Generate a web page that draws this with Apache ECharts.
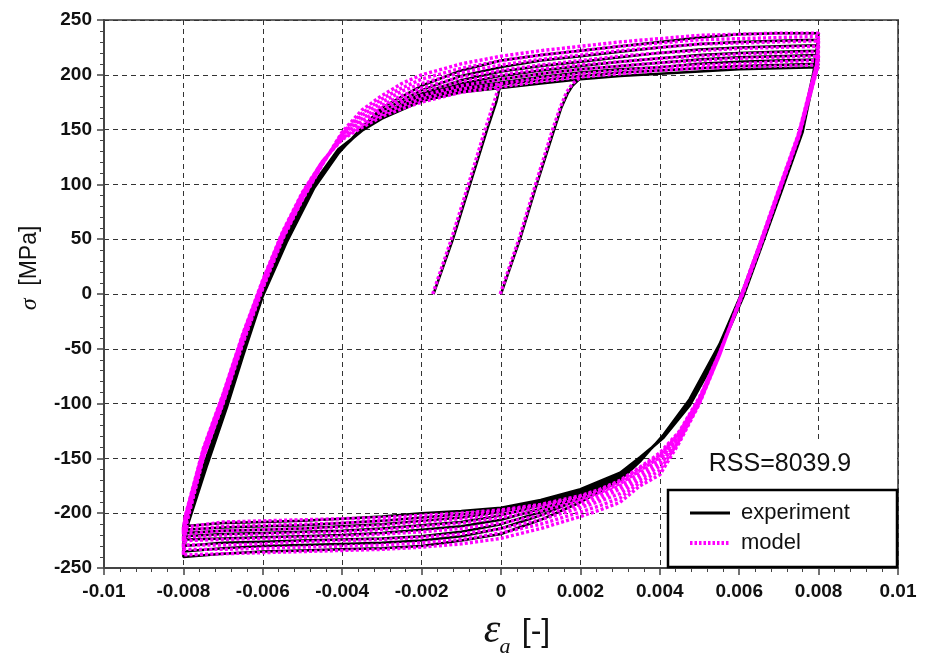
<!DOCTYPE html>
<html>
<head>
<meta charset="utf-8">
<script src="https://cdn.jsdelivr.net/npm/echarts@6/dist/echarts.min.js"></script>
<style>
  html, body { margin: 0; padding: 0; background: #fff; }
  #chart { width: 933px; height: 653px; }
</style>
</head>
<body>
<div id="chart"></div>
<script>
// axis ticks
const xTickLabels = ['-0.01', '-0.008', '-0.006', '-0.004', '-0.002', '0', '0.002', '0.004', '0.006', '0.008', '0.01'];
const yTickLabels = ['-250', '-200', '-150', '-100', '-50', '0', '50', '100', '150', '200', '250'];

// experiment: strain samples of the loading (up) and unloading (down) branches
const expUpStrain = [-0.008, -0.0079, -0.0074, -0.0069, -0.0065, -0.006, -0.0054, -0.0047, -0.0041, -0.0035, -0.003, -0.002, -0.001, 0, 0.001, 0.002, 0.003, 0.004, 0.005, 0.006, 0.007, 0.008];
const expDownStrain = [0.008, 0.0079, 0.0076, 0.0071, 0.0066, 0.0061, 0.0055, 0.00475, 0.0041, 0.0035, 0.003, 0.002, 0.001, 0, -0.001, -0.002, -0.003, -0.004, -0.005, -0.006, -0.007, -0.008];

// experiment stress per cycle [MPa]
const expUp1 = [-240, -212, -156, -103, -57, -2, 47, 97, 128, 152, 170, 190, 204, 213, 218, 222, 226, 230, 234, 237, 238, 238];
const expUp2 = [-235, -209, -155, -102, -56, -1, 48, 98, 129, 151, 167, 186, 199, 207, 213, 217, 221, 225, 228, 230, 231, 232];
const expUp3 = [-230, -207, -154, -101, -55, 0, 49, 99, 129, 150, 164, 183, 195, 203, 208, 212, 216, 220, 223, 225, 226, 227];
const expUp4 = [-224, -205, -152, -99, -53, 1, 50, 100, 130, 150, 162, 181, 192, 199, 204, 208, 212, 215, 218, 220, 221, 222];
const expUp5 = [-221, -203, -151, -98, -52, 2, 51, 101, 130, 150, 161, 180, 190, 196, 201, 205, 208, 211, 214, 216, 217, 218];
const expUp6 = [-218, -202, -149, -97, -51, 3, 52, 101, 131, 149, 161, 179, 188, 193, 198, 202, 205, 207, 210, 212, 213, 214];
const expUp7 = [-215, -200, -148, -96, -50, 4, 53, 102, 131, 149, 160, 177, 186, 191, 195, 199, 202, 204, 206, 208, 209, 210];
const expUp8 = [-212, -199, -147, -95, -49, 5, 54, 102, 132, 149, 160, 176, 184, 188, 192, 196, 199, 201, 203, 205, 206, 207];

const expDown1 = [238, 208, 155, 104, 54, 4, -46, -96, -128, -153, -170, -190, -206, -219, -225, -230, -232, -233, -234, -235, -237, -240];
const expDown2 = [232, 207, 154, 103, 53, 3, -47, -97, -129, -152, -168, -187, -202, -214, -221, -225, -227, -228, -229, -230, -232, -235];
const expDown3 = [227, 206, 153, 102, 52, 2, -48, -98, -129, -151, -167, -185, -199, -210, -217, -221, -223, -224, -225, -226, -227, -230];
const expDown4 = [222, 205, 152, 101, 51, 1, -49, -99, -130, -151, -166, -183, -196, -206, -212, -215, -218, -220, -221, -222, -223, -224];
const expDown5 = [218, 204, 151, 100, 50, 0, -50, -100, -130, -150, -165, -181, -193, -202, -208, -211, -214, -216, -217, -218, -219, -221];
const expDown6 = [214, 203, 150, 99, 49, -1, -51, -100, -130, -150, -164, -180, -191, -199, -204, -207, -210, -212, -214, -215, -216, -218];
const expDown7 = [210, 202, 149, 98, 48, -2, -52, -101, -131, -150, -164, -179, -189, -197, -201, -204, -207, -209, -211, -212, -213, -215];
const expDown8 = [207, 200, 148, 97, 47, -3, -53, -102, -131, -149, -163, -178, -188, -195, -198, -200, -203, -205, -207, -208, -209, -212];

// experiment: the two first-loading curves [strain, stress]
const expFirstA = [[-0.0017, 0], [-0.00121, 50], [-0.00078, 100], [-0.00035, 150], [-0.00012, 175], [-0.00002, 190]];
const expFirstB = [[0, 0], [0.00048, 50], [0.0009, 100], [0.00134, 150], [0.00152, 170], [0.00168, 183], [0.0018, 190], [0.002, 197]];

// model: strain samples
const modelUpStrain = [-0.008, -0.00795, -0.0075, -0.007, -0.0065, -0.006, -0.0055, -0.005, -0.0045, -0.004, -0.0035, -0.003, -0.0025, -0.002, -0.001, 0, 0.001, 0.002, 0.003, 0.004, 0.005, 0.006, 0.007, 0.008];
const modelDownStrain = [0.008, 0.00795, 0.0075, 0.007, 0.0065, 0.006, 0.0055, 0.005, 0.0045, 0.004, 0.0035, 0.003, 0.0025, 0.002, 0.001, 0, -0.001, -0.002, -0.003, -0.004, -0.005, -0.006, -0.007, -0.008];

// model stress per cycle [MPa]
const modelUp1 = [-238, -214, -150, -100, -45, 5, 50, 86, 118, 148, 168, 181, 192, 200, 210, 217, 222, 226, 230, 233, 236, 237, 238, 238];
const modelUp2 = [-233, -211, -149, -99, -44, 6, 51, 87, 118, 147, 165, 178, 188, 196, 206, 213, 218, 222, 226, 229, 232, 233, 234, 235];
const modelUp3 = [-229, -209, -148, -98, -42, 8, 52, 88, 119, 146, 163, 175, 185, 192, 202, 209, 214, 218, 222, 225, 228, 229, 230, 231];
const modelUp4 = [-225, -207, -146, -96, -41, 9, 53, 89, 119, 145, 160, 172, 181, 188, 198, 204, 209, 213, 217, 220, 222, 224, 225, 226];
const modelUp5 = [-222, -205, -145, -95, -40, 10, 54, 90, 120, 144, 158, 170, 178, 185, 194, 200, 205, 209, 212, 215, 217, 219, 220, 221];
const modelUp6 = [-219, -204, -144, -94, -39, 11, 55, 91, 120, 143, 156, 167, 175, 181, 190, 196, 201, 205, 208, 211, 213, 215, 216, 217];
const modelUp7 = [-216, -203, -142, -92, -37, 12, 56, 92, 121, 142, 154, 164, 172, 178, 187, 192, 197, 201, 204, 207, 209, 210, 212, 213];
const modelUp8 = [-213, -202, -141, -91, -36, 13, 57, 93, 121, 141, 152, 162, 169, 175, 184, 189, 194, 198, 201, 204, 206, 207, 208, 209];

const modelDown1 = [238, 210, 147, 96, 44, -6, -56, -100, -135, -165, -175, -190, -197, -203, -214, -223, -228, -231, -233, -234, -235, -236, -237, -238];
const modelDown2 = [235, 209, 146, 95, 43, -7, -56, -99, -133, -161, -172, -186, -193, -199, -210, -218, -224, -227, -229, -230, -231, -232, -233, -233];
const modelDown3 = [231, 208, 146, 95, 43, -7, -56, -98, -131, -157, -169, -182, -189, -195, -206, -214, -219, -222, -224, -225, -226, -228, -229, -229];
const modelDown4 = [226, 207, 145, 94, 42, -7, -55, -97, -129, -154, -166, -178, -186, -192, -202, -209, -214, -217, -219, -221, -222, -223, -224, -225];
const modelDown5 = [221, 206, 145, 94, 42, -8, -55, -96, -128, -151, -163, -175, -183, -189, -198, -204, -209, -212, -215, -217, -218, -219, -220, -222];
const modelDown6 = [217, 205, 144, 93, 41, -8, -55, -96, -127, -149, -161, -173, -181, -187, -195, -201, -205, -208, -211, -213, -214, -215, -216, -219];
const modelDown7 = [213, 204, 144, 93, 41, -8, -54, -95, -126, -147, -159, -171, -179, -185, -193, -198, -202, -205, -207, -209, -210, -211, -212, -216];
const modelDown8 = [209, 203, 143, 92, 40, -9, -54, -94, -125, -145, -158, -170, -178, -184, -192, -197, -200, -202, -204, -205, -206, -207, -208, -213];

const modelFirstA = [[-0.00172, 0], [-0.00125, 50], [-0.00082, 100], [-0.0004, 150], [-0.00015, 178], [-0.00003, 192]];
const modelFirstB = [[-0.00002, 0], [0.00045, 50], [0.00087, 100], [0.0013, 150], [0.00149, 170], [0.00165, 184], [0.0018, 192], [0.002, 198]];

const rssText = 'RSS=8039.9';

// join strain/stress of consecutive cycles into one continuous path
function loops(upStrain, downStrain, ups, downs) {
  const pts = [];
  ups.forEach((up, c) => {
    up.forEach((s, i) => pts.push([upStrain[i], s]));
    downs[c].forEach((s, i) => pts.push([downStrain[i], s]));
  });
  return pts;
}

const expLoops = loops(expUpStrain, expDownStrain,
  [expUp1, expUp2, expUp3, expUp4, expUp5, expUp6, expUp7, expUp8],
  [expDown1, expDown2, expDown3, expDown4, expDown5, expDown6, expDown7, expDown8]);
const modelLoops = loops(modelUpStrain, modelDownStrain,
  [modelUp1, modelUp2, modelUp3, modelUp4, modelUp5, modelUp6, modelUp7, modelUp8],
  [modelDown1, modelDown2, modelDown3, modelDown4, modelDown5, modelDown6, modelDown7, modelDown8]);

const FONT = 'Liberation Sans, Arial, sans-serif';
const expLine = { color: '#000', width: 2.5 };
const modelLine = { color: '#ff00ff', width: 3.4, type: [3, 2.2] };

function lineSeries(name, data, lineStyle, z) {
  return {
    name: name,
    type: 'line',
    data: data,
    symbol: 'none',
    showSymbol: false,
    lineStyle: lineStyle,
    itemStyle: { color: lineStyle.color },
    z: z,
    silent: true,
  };
}

const chart = echarts.init(document.getElementById('chart'), null, { renderer: 'canvas' });

const option = {
  animation: false,
  backgroundColor: '#fff',
  grid: {
    left: 104,
    right: 35,
    top: 20,
    bottom: 85,
    show: true,
    borderColor: '#666',
    borderWidth: 2,
  },
  xAxis: {
    type: 'value',
    min: -0.01,
    max: 0.01,
    interval: 0.002,
    axisLine: { show: true, onZero: false, lineStyle: { color: '#444', width: 2 } },
    axisTick: { show: true, inside: false, length: 7, lineStyle: { color: '#444', width: 1.5 } },
    minorTick: { show: true, splitNumber: 5, length: 4, lineStyle: { color: '#444', width: 1 } },
    splitLine: { show: true, lineStyle: { color: '#333', width: 1, type: [5, 4] } },
    axisLabel: {
      margin: 14,
      fontFamily: FONT,
      fontWeight: 'bold',
      fontSize: 19,
      color: '#111',
      formatter: (v) => xTickLabels[Math.round((v + 0.01) / 0.002)],
    },
  },
  yAxis: {
    type: 'value',
    min: -250,
    max: 250,
    interval: 50,
    axisLine: { show: true, onZero: false, lineStyle: { color: '#444', width: 2 } },
    axisTick: { show: true, inside: false, length: 7, lineStyle: { color: '#444', width: 1.5 } },
    minorTick: { show: true, splitNumber: 5, length: 4, lineStyle: { color: '#444', width: 1 } },
    splitLine: { show: true, lineStyle: { color: '#333', width: 1, type: [5, 4] } },
    axisLabel: {
      margin: 12,
      fontFamily: FONT,
      fontWeight: 'bold',
      fontSize: 19,
      color: '#111',
      formatter: (v) => yTickLabels[Math.round((v + 250) / 50)],
    },
  },
  legend: {
    data: [
      { name: 'experiment', lineStyle: { width: 3 }, itemStyle: { opacity: 0 } },
      { name: 'model', lineStyle: { width: 4, type: [2.5, 2] }, itemStyle: { opacity: 0 } },
    ],
    orient: 'vertical',
    left: 688,
    top: 502,
    itemWidth: 40,
    itemHeight: 14,
    itemGap: 8,
    padding: 0,
    z: 20,
    selectedMode: false,
    textStyle: { fontFamily: FONT, fontSize: 22, color: '#111', padding: [0, 0, 0, 6] },
  },
  graphic: [
    {
      type: 'rect', z: 10,
      shape: { x: 683, y: 440, width: 214, height: 50 },
      style: { fill: '#fff' },
    },
    {
      type: 'rect', z: 10,
      shape: { x: 668, y: 490, width: 229, height: 77 },
      style: { fill: '#fff', stroke: '#000', lineWidth: 2.5 },
    },
    {
      type: 'text', z: 11,
      x: 780, y: 464,
      style: { text: rssText, font: '25px ' + FONT, fill: '#111', textAlign: 'center', textVerticalAlign: 'middle' },
    },
    {
      type: 'text', z: 11,
      x: 30, y: 268, rotation: Math.PI / 2,
      style: {
        text: '{s|σ}  [MPa]',
        font: '23px ' + FONT,
        fill: '#111',
        textAlign: 'center',
        textVerticalAlign: 'middle',
        rich: { s: { fontStyle: 'italic', fontFamily: 'Liberation Serif', fontSize: 24, fill: '#111' } },
      },
    },
    {
      type: 'text', z: 11,
      x: 492, y: 631,
      style: { text: 'ε', font: 'italic 42px Liberation Serif', fill: '#111', textAlign: 'center', textVerticalAlign: 'middle' },
    },
    {
      type: 'text', z: 11,
      x: 505, y: 647,
      style: { text: 'a', font: 'italic 22px Liberation Serif', fill: '#111', textAlign: 'center', textVerticalAlign: 'middle' },
    },
    {
      type: 'text', z: 11,
      x: 536, y: 632,
      style: { text: '[-]', font: '32px ' + FONT, fill: '#111', textAlign: 'center', textVerticalAlign: 'middle' },
    },
  ],
  series: [
    lineSeries('experiment', expLoops, expLine, 2),
    lineSeries('experiment', expFirstA, expLine, 2),
    lineSeries('experiment', expFirstB, expLine, 2),
    lineSeries('model', modelLoops, modelLine, 3),
    lineSeries('model', modelFirstA, modelLine, 3),
    lineSeries('model', modelFirstB, modelLine, 3),
  ],
};

chart.setOption(option);
</script>
</body>
</html>
